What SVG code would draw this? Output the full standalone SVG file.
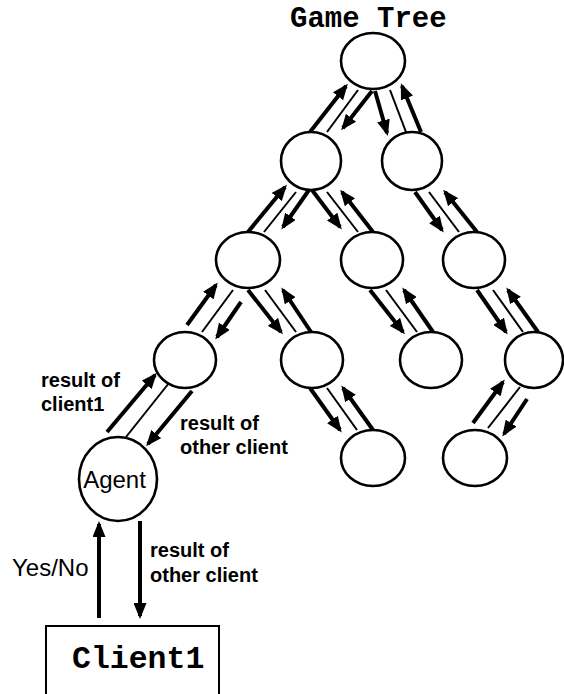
<svg xmlns="http://www.w3.org/2000/svg" width="564" height="694" viewBox="0 0 564 694">
  <style>
    .node { fill: #fff; stroke: #000; stroke-width: 2.6; }
    .thick { stroke: #000; stroke-width: 4; fill: none; marker-end: url(#head); }
    .thin { stroke: #000; stroke-width: 2; fill: none; }
    .mono { font-family: "Liberation Mono", "Courier New", monospace; font-weight: bold; fill: #000; }
    .lbl { font-family: "Liberation Sans", Arial, Helvetica, sans-serif; font-weight: bold; font-size: 20px; fill: #000; }
    .reg { font-family: "Liberation Sans", Arial, Helvetica, sans-serif; font-size: 24px; fill: #000; }
  </style>
  <defs>
    <marker id="head" markerUnits="userSpaceOnUse" markerWidth="16" markerHeight="13" refX="13" refY="6.5" orient="auto">
      <path d="M0,0 L16,6.5 L0,13 z" fill="#000"/>
    </marker>
  </defs>

  <rect width="564" height="694" fill="#fff"/>

  <text class="mono" x="290" y="27" font-size="29">Game Tree</text>

  <!-- connectors: each edge is an up arrow, a thin rule and a down arrow -->
  <g id="connectors">
    <!-- root to left child -->
    <line class="thick" x1="310" y1="132" x2="346" y2="86"/>
    <line class="thin" x1="327" y1="132" x2="358" y2="90"/>
    <line class="thick" x1="372" y1="91" x2="343" y2="128"/>
    <!-- root to right child -->
    <line class="thick" x1="375" y1="91" x2="387" y2="133"/>
    <line class="thin" x1="390" y1="90" x2="406" y2="132"/>
    <line class="thick" x1="421" y1="132" x2="402" y2="86"/>

    <!-- level 2 to level 3 -->
    <line class="thick" x1="248" y1="232" x2="285" y2="187"/>
    <line class="thin" x1="264" y1="232" x2="296" y2="192"/>
    <line class="thick" x1="309" y1="190" x2="283" y2="227"/>

    <line class="thick" x1="312" y1="190" x2="340" y2="227"/>
    <line class="thin" x1="327" y1="192" x2="358" y2="232"/>
    <line class="thick" x1="373" y1="232" x2="342" y2="192"/>

    <line class="thick" x1="415" y1="192" x2="442" y2="230"/>
    <line class="thin" x1="429" y1="192" x2="459" y2="232"/>
    <line class="thick" x1="477" y1="232" x2="445" y2="192"/>

    <!-- level 3 to level 4 -->
    <line class="thick" x1="187" y1="325" x2="216" y2="285"/>
    <line class="thin" x1="202" y1="332" x2="233" y2="290"/>
    <line class="thick" x1="241" y1="302" x2="217" y2="337"/>

    <line class="thick" x1="248" y1="290" x2="281" y2="332"/>
    <line class="thin" x1="265" y1="290" x2="296" y2="332"/>
    <line class="thick" x1="311" y1="332" x2="283" y2="290"/>

    <line class="thick" x1="370" y1="290" x2="403" y2="332"/>
    <line class="thin" x1="386" y1="290" x2="417" y2="332"/>
    <line class="thick" x1="433" y1="332" x2="404" y2="290"/>

    <line class="thick" x1="477" y1="290" x2="506" y2="332"/>
    <line class="thin" x1="493" y1="290" x2="523" y2="332"/>
    <line class="thick" x1="538" y1="332" x2="508" y2="290"/>

    <!-- level 4 to agent and level 5 -->
    <line class="thick" x1="107" y1="432" x2="155" y2="375"/>
    <line class="thin" x1="126" y1="437" x2="169" y2="383"/>
    <line class="thick" x1="192" y1="391" x2="148" y2="444"/>

    <line class="thick" x1="310" y1="388" x2="340" y2="430"/>
    <line class="thin" x1="327" y1="388" x2="357" y2="430"/>
    <line class="thick" x1="373" y1="430" x2="343" y2="388"/>

    <line class="thick" x1="473" y1="423" x2="503" y2="382"/>
    <line class="thin" x1="488" y1="428" x2="520" y2="387"/>
    <line class="thick" x1="527" y1="399" x2="504" y2="434"/>

    <!-- agent and client -->
    <line class="thick" x1="99" y1="618" x2="99" y2="524"/>
    <line class="thick" x1="140" y1="521" x2="140" y2="616"/>
  </g>

  <g id="n-root"><ellipse class="node" cx="373" cy="61" rx="32" ry="28"/></g>
  <g id="n-l2a"><ellipse class="node" cx="311" cy="161" rx="30" ry="29"/></g>
  <g id="n-l2b"><ellipse class="node" cx="412" cy="161" rx="30" ry="29"/></g>
  <g id="n-l3a"><ellipse class="node" cx="248" cy="260" rx="32" ry="28"/></g>
  <g id="n-l3b"><ellipse class="node" cx="372" cy="260" rx="31" ry="28"/></g>
  <g id="n-l3c"><ellipse class="node" cx="474" cy="260" rx="31" ry="28"/></g>
  <g id="n-l4a"><ellipse class="node" cx="185" cy="360" rx="31" ry="28"/></g>
  <g id="n-l4b"><ellipse class="node" cx="312" cy="360" rx="31" ry="28"/></g>
  <g id="n-l4c"><ellipse class="node" cx="431" cy="360" rx="31" ry="28"/></g>
  <g id="n-l4d"><ellipse class="node" cx="534" cy="360" rx="29" ry="28"/></g>
  <g id="n-l5a"><ellipse class="node" cx="373" cy="458" rx="32" ry="28"/></g>
  <g id="n-l5b"><ellipse class="node" cx="475" cy="458" rx="32" ry="28"/></g>

  <g id="n-agent">
    <ellipse class="node" cx="118" cy="479" rx="39" ry="42"/>
    <text class="reg" x="114.5" y="488" text-anchor="middle">Agent</text>
  </g>

  <g id="n-client1">
    <rect x="46" y="626" width="173" height="80" fill="#fff" stroke="#000" stroke-width="2"/>
    <text class="mono" x="72" y="668" font-size="31.5">Client1</text>
  </g>

  <g id="labels">
    <text class="lbl" x="41" y="387">result of</text>
    <text class="lbl" x="41" y="411">client1</text>
    <text class="lbl" x="180" y="430">result of</text>
    <text class="lbl" x="180" y="454">other client</text>
    <text class="lbl" x="150" y="557">result of</text>
    <text class="lbl" x="150" y="582">other client</text>
    <text class="reg" x="12" y="576">Yes/No</text>
  </g>
</svg>
